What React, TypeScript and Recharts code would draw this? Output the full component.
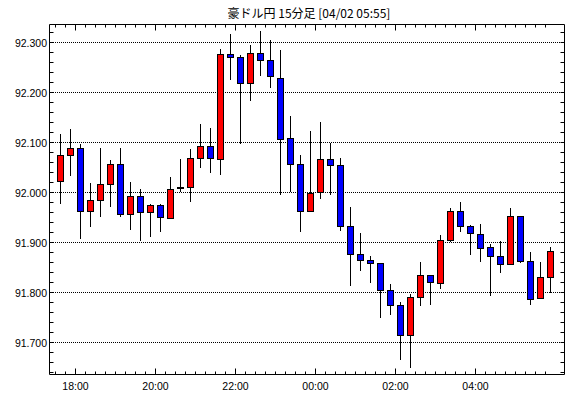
import React from 'react';
import { ComposedChart, Bar, XAxis, YAxis, CartesianGrid } from 'recharts';

const chartTitle = '豪ドル円 15分足 [04/02 05:55]';

const times = [
  '17:30', '17:45', '18:00', '18:15', '18:30', '18:45', '19:00', '19:15', '19:30', '19:45',
  '20:00', '20:15', '20:30', '20:45', '21:00', '21:15', '21:30', '21:45', '22:00', '22:15',
  '22:30', '22:45', '23:00', '23:15', '23:30', '23:45', '00:00', '00:15', '00:30', '00:45',
  '01:00', '01:15', '01:30', '01:45', '02:00', '02:15', '02:30', '02:45', '03:00', '03:15',
  '03:30', '03:45', '04:00', '04:15', '04:30', '04:45', '05:00', '05:15', '05:30', '05:45',
];

const opens = [
  92.022, 92.074, 92.088, 91.961, 91.984, 92.016, 92.056, 91.956, 91.992, 91.960,
  91.974, 91.947, 92.008, 92.009, 92.068, 92.092, 92.066, 92.276, 92.270, 92.218,
  92.278, 92.264, 92.228, 92.108, 92.056, 91.962, 92.000, 92.066, 92.054, 91.932,
  91.876, 91.864, 91.858, 91.804, 91.774, 91.714, 91.790, 91.834, 91.818, 91.904,
  91.962, 91.932, 91.916, 91.890, 91.872, 91.856, 91.952, 91.862, 91.788, 91.830,
];
const highs = [
  92.118, 92.127, 92.097, 92.019, 92.089, 92.065, 92.089, 92.021, 92.007, 91.977,
  91.977, 92.030, 92.067, 92.086, 92.137, 92.129, 92.288, 92.318, 92.274, 92.295,
  92.322, 92.304, 92.284, 92.154, 92.075, 92.124, 92.142, 92.100, 92.070, 91.970,
  91.918, 91.874, 91.859, 91.816, 91.780, 91.796, 91.861, 91.835, 91.914, 91.969,
  91.981, 91.935, 91.937, 91.896, 91.904, 91.969, 91.953, 91.881, 91.861, 91.891,
];
const lows = [
  91.976, 92.033, 91.907, 91.931, 91.951, 91.971, 91.950, 91.925, 91.903, 91.911,
  91.921, 91.946, 92.000, 91.981, 92.049, 92.039, 92.035, 92.225, 92.096, 92.184,
  92.234, 92.209, 91.994, 92.000, 91.920, 91.961, 91.986, 91.996, 91.922, 91.812,
  91.842, 91.818, 91.748, 91.754, 91.664, 91.648, 91.773, 91.775, 91.807, 91.900,
  91.920, 91.875, 91.861, 91.793, 91.839, 91.855, 91.859, 91.775, 91.787, 91.798,
];
const closes = [
  92.074, 92.088, 91.961, 91.984, 92.016, 92.056, 91.956, 91.992, 91.960, 91.974,
  91.950, 92.006, 92.009, 92.068, 92.092, 92.068, 92.276, 92.270, 92.218, 92.278,
  92.264, 92.232, 92.106, 92.056, 91.962, 91.998, 92.066, 92.054, 91.932, 91.876,
  91.864, 91.858, 91.804, 91.774, 91.714, 91.790, 91.834, 91.820, 91.904, 91.962,
  91.932, 91.918, 91.888, 91.872, 91.856, 91.952, 91.862, 91.786, 91.830, 91.882,
];

const timeTickLabels = ['18:00', '20:00', '22:00', '00:00', '02:00', '04:00'];
const priceTickLabels = ['91.700', '91.800', '91.900', '92.000', '92.100', '92.200', '92.300'];
const priceDomain: [number, number] = [91.636, 92.336];
const indexDomain: [number, number] = [-1.1, 50.4];

const UP = '#ff0000';
const DOWN = '#0000ff';
const FONT = '"Liberation Sans", Arial, sans-serif';

const data = times.map((t, i) => ({
  i,
  time: t,
  open: opens[i],
  high: highs[i],
  low: lows[i],
  close: closes[i],
  range: [lows[i], highs[i]],
}));

// tick positions on candle boundaries
const xTicks = times.map((_, i) => i - 0.5);
const majorX = new Set(times.map((t, i) => (timeTickLabels.includes(t) ? i - 0.5 : NaN)));
const labelAt = (v: number) => {
  const idx = Math.round(v + 0.5);
  return times[idx];
};

const majorY = priceTickLabels.map((s) => parseFloat(s));
const yTicks: number[] = [];
for (let k = 0; k < 35; k++) yTicks.push(Math.round((91.64 + k * 0.02) * 1000) / 1000);
const isMajorY = (v: number) => majorY.some((m) => Math.abs(m - v) < 1e-6);

const crisp = (v: number) => Math.floor(v) + 0.5;

const BottomTick = (props: any) => {
  const { x, y, payload } = props;
  const v = payload.value;
  const major = majorX.has(v);
  const cx = crisp(x);
  return (
    <g>
      <line x1={cx} x2={cx} y1={y} y2={y - (major ? 6 : 3)} stroke="#000" strokeWidth={1} />
      {major && (
        <text x={cx} y={y + 15.5} textAnchor="middle" fontSize={10.5} fontFamily={FONT} fill="#000">
          {labelAt(v)}
        </text>
      )}
    </g>
  );
};

const TopTick = (props: any) => {
  const { x, y, payload } = props;
  const major = majorX.has(payload.value);
  const cx = crisp(x);
  return <line x1={cx} x2={cx} y1={y} y2={y + (major ? 6 : 3)} stroke="#000" strokeWidth={1} />;
};

const LeftTick = (props: any) => {
  const { x, y, payload } = props;
  const v = payload.value;
  const cy = crisp(y);
  const major = isMajorY(v);
  return (
    <g>
      <line x1={x} x2={x + 4} y1={cy} y2={cy} stroke="#000" strokeWidth={1} />
      {major && (
        <text x={x - 2.5} y={cy + 4} textAnchor="end" fontSize={10.5} fontFamily={FONT} fill="#000">
          {priceTickLabels[majorY.findIndex((m) => Math.abs(m - v) < 1e-6)]}
        </text>
      )}
    </g>
  );
};

const RightTick = (props: any) => {
  const { x, y } = props;
  const cy = crisp(y);
  return <line x1={x} x2={x - 4} y1={cy} y2={cy} stroke="#000" strokeWidth={1} />;
};

const Candle = (props: any) => {
  const { x, y, width, height, payload } = props;
  if (x == null || y == null || !payload) return null;
  const top = Math.min(y, y + height);
  const h = Math.abs(height);
  const { open, close, high, low } = payload;
  const pix = (v: number) => top + ((high - v) / (high - low)) * h;
  const cx = crisp(x + width / 2);
  const bodyTop = crisp(pix(Math.max(open, close)));
  const bodyBot = Math.max(crisp(pix(Math.min(open, close))), bodyTop + 1);
  const fill = close >= open ? UP : DOWN;
  return (
    <g>
      <line x1={cx} x2={cx} y1={Math.round(pix(high))} y2={Math.round(pix(low))} stroke="#000" strokeWidth={1} />
      <rect x={cx - 3} y={bodyTop} width={6} height={bodyBot - bodyTop} fill={fill} stroke="#000" strokeWidth={1} />
    </g>
  );
};

export default function App() {
  return (
    <div style={{ position: 'absolute', left: 0, top: 0, width: 570, height: 398, background: '#fff' }}>
      <div
        style={{
          position: 'absolute',
          left: 0,
          top: 4,
          width: 618,
          textAlign: 'center',
          fontSize: 12,
          lineHeight: '17px',
          fontFamily: '"Noto Sans CJK JP", sans-serif',
          color: '#000',
          whiteSpace: 'nowrap',
        }}
      >
        {chartTitle}
      </div>
      <ComposedChart
        width={570}
        height={398}
        data={data}
        margin={{ top: 0.5, right: 0.5, bottom: 0.5, left: 0.5 }}
      >
        <CartesianGrid
          yAxisId="l"
          xAxisId="b"
          vertical={false}
          horizontalValues={majorY}
          stroke="#000"
          strokeOpacity={1}
          strokeDasharray="1 1"
          strokeDashoffset={0.5}
        />
        <XAxis
          xAxisId="b"
          dataKey="i"
          type="number"
          domain={indexDomain}
          allowDataOverflow
          ticks={xTicks}
          interval={0}
          height={23}
          tickSize={0}
          tickMargin={0}
          tickLine={false}
          axisLine={{ stroke: '#000' }}
          tick={<BottomTick />}
        />
        <XAxis
          xAxisId="t"
          orientation="top"
          dataKey="i"
          type="number"
          domain={indexDomain}
          allowDataOverflow
          ticks={xTicks}
          interval={0}
          height={24}
          tickSize={0}
          tickMargin={0}
          tickLine={false}
          axisLine={{ stroke: '#000' }}
          tick={<TopTick />}
        />
        <YAxis
          yAxisId="l"
          type="number"
          domain={priceDomain}
          allowDataOverflow
          ticks={yTicks}
          interval={0}
          width={49}
          tickSize={0}
          tickMargin={0}
          tickLine={false}
          axisLine={{ stroke: '#000' }}
          tick={<LeftTick />}
        />
        <YAxis
          yAxisId="r"
          orientation="right"
          type="number"
          domain={priceDomain}
          allowDataOverflow
          ticks={yTicks}
          interval={0}
          width={5}
          tickSize={0}
          tickMargin={0}
          tickLine={false}
          axisLine={{ stroke: '#000' }}
          tick={<RightTick />}
        />
        <Bar
          xAxisId="b"
          yAxisId="l"
          dataKey="range"
          barSize={7}
          isAnimationActive={false}
          shape={<Candle />}
        />
      </ComposedChart>
    </div>
  );
}
